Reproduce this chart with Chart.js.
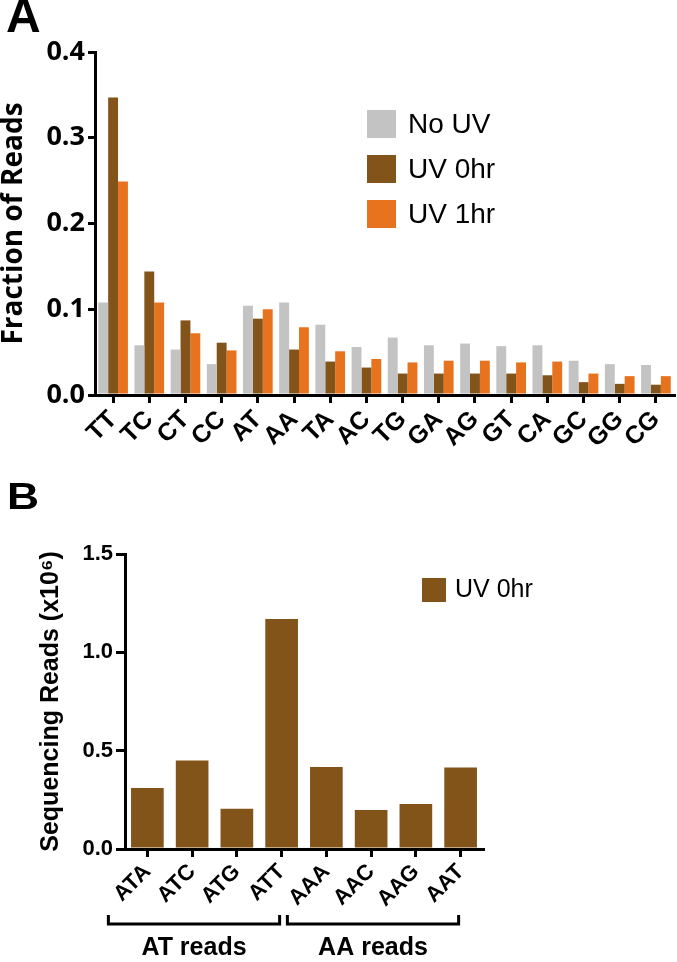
<!DOCTYPE html>
<html>
<head>
<meta charset="utf-8">
<script src="https://cdn.jsdelivr.net/npm/chart.js@4.4.0/dist/chart.umd.min.js"></script>
<style>
  html, body { margin: 0; padding: 0; background: #fff; }
  #wrap { position: relative; width: 677px; height: 962px; overflow: hidden; }
  .panel { position: absolute; left: 0; width: 677px; }
  .letter { position: absolute; font-family: 'Liberation Sans', Arial, sans-serif; font-weight: bold; line-height: 1; transform-origin: left top; }
</style>
</head>
<body>
<div id="wrap">
  <div class="panel" style="top:0;height:460px"><canvas id="chartA"></canvas></div>
  <div class="panel" style="top:460px;height:502px"><canvas id="chartB"></canvas></div>
  <div class="letter" style="left:6px;top:-8px;font-size:48px">A</div>
  <div class="letter" style="left:7px;top:478px;font-size:37px;transform:scaleX(1.2)">B</div>
</div>
<script>
// panel A data
var dinucleotides = ['TT', 'TC', 'CT', 'CC', 'AT', 'AA', 'TA', 'AC', 'TG', 'GA', 'AG', 'GT', 'CA', 'GC', 'GG', 'CG'];
var noUV  = [0.108, 0.058, 0.053, 0.036, 0.104, 0.108, 0.082, 0.056, 0.067, 0.058, 0.060, 0.057, 0.058, 0.040, 0.036, 0.035];
var uv0hr = [0.347, 0.144, 0.087, 0.061, 0.089, 0.053, 0.039, 0.032, 0.025, 0.025, 0.025, 0.025, 0.023, 0.015, 0.013, 0.012];
var uv1hr = [0.249, 0.108, 0.072, 0.052, 0.100, 0.079, 0.051, 0.042, 0.038, 0.040, 0.040, 0.038, 0.039, 0.025, 0.022, 0.022];
var yTicksA = [0.0, 0.1, 0.2, 0.3, 0.4];

// panel B data
var trinucleotides = ['ATA', 'ATC', 'ATG', 'ATT', 'AAA', 'AAC', 'AAG', 'AAT'];
var uv0hrReads = [0.31, 0.45, 0.205, 1.17, 0.417, 0.198, 0.229, 0.415];
var yTicksB = [0.0, 0.5, 1.0, 1.5];
var groupLabels = ['AT reads', 'AA reads'];
var groupStart = [0, 4];
var groupEnd = [3, 7];

var GRAY = '#C3C3C3', BROWN = '#83541A', ORANGE = '#E8731F';
var fontA = "'Open Sans', 'Liberation Sans', sans-serif";
var fontB = "'Liberation Sans', Arial, sans-serif";

var legendA = {
    id: 'legendA',
    afterDraw: function (chart) {
        var ctx = chart.ctx;
        ctx.save();
        chart.data.datasets.forEach(function (ds, i) {
            var y = 110 + i * 45;
            ctx.fillStyle = ds.backgroundColor;
            ctx.fillRect(367, y, 29, 28);
            ctx.fillStyle = '#000';
            ctx.font = "28px 'Liberation Sans', Arial, sans-serif";
            ctx.textBaseline = 'middle';
            ctx.textAlign = 'left';
            ctx.fillText(ds.label, 408, y + 15);
        });
        ctx.restore();
    }
};

var ctxA = document.getElementById('chartA').getContext('2d');
var chartA = new Chart(ctxA, {
    type: 'bar',
    data: {
        labels: dinucleotides,
        datasets: [
            { label: 'No UV', data: noUV, backgroundColor: GRAY },
            { label: 'UV 0hr', data: uv0hr, backgroundColor: BROWN },
            { label: 'UV 1hr', data: uv1hr, backgroundColor: ORANGE }
        ]
    },
    options: {
        responsive: true,
        maintainAspectRatio: false,
        animation: false,
        layout: { padding: { top: 52, right: 3, left: 0, bottom: 0 } },
        datasets: { bar: { categoryPercentage: 0.82, barPercentage: 1 } },
        plugins: { legend: { display: false }, tooltip: { enabled: false } },
        scales: {
            x: {
                offset: true,
                grid: { offset: false, drawOnChartArea: false, drawTicks: true, tickLength: 8, color: '#000', lineWidth: 3 },
                border: { display: true, color: '#000', width: 3 },
                ticks: {
                    color: '#000', minRotation: 45, maxRotation: 45, padding: 2, autoSkip: false,
                    font: { family: "'Liberation Sans', Arial, sans-serif", weight: 'bold', size: 25 }
                },
                afterFit: function (s) { s.height = 65; s.paddingLeft = 0; s.paddingRight = 0; }
            },
            y: {
                min: 0, max: 0.4,
                grid: { drawOnChartArea: false, drawTicks: true, tickLength: 7, color: '#000', lineWidth: 3 },
                border: { display: true, color: '#000', width: 3 },
                afterBuildTicks: function (s) { s.ticks = yTicksA.map(function (v) { return { value: v }; }); },
                ticks: {
                    color: '#000', padding: 3,
                    font: { family: fontA, weight: 'bold', size: 27 },
                    callback: function (v) { return v.toFixed(1); }
                },
                title: {
                    display: true, text: 'Fraction of Reads', color: '#000',
                    font: { family: fontA, weight: 'bold', size: 28, lineHeight: 1 },
                    padding: { top: 0, bottom: 0 }
                },
                afterFit: function (s) { s.width = 95; s.paddingTop = 0; s.paddingBottom = 0; }
            }
        }
    },
    plugins: [legendA]
});

var extrasB = {
    id: 'extrasB',
    afterDraw: function (chart) {
        var ctx = chart.ctx;
        var xs = chart.scales.x;
        ctx.save();
        // legend
        ctx.fillStyle = BROWN;
        ctx.fillRect(422, 118, 24, 24);
        ctx.fillStyle = '#000';
        ctx.font = "25px " + fontB;
        ctx.textBaseline = 'middle';
        ctx.textAlign = 'left';
        ctx.fillText(chart.data.datasets[0].label, 455, 130);
        // group brackets
        ctx.strokeStyle = '#000';
        ctx.lineWidth = 3;
        groupLabels.forEach(function (g, i) {
            var x0 = xs.getPixelForValue(groupStart[i]) - 39;
            var x1 = xs.getPixelForValue(groupEnd[i]) - 2;
            var y = 464;
            ctx.beginPath();
            ctx.moveTo(x0, y - 9);
            ctx.lineTo(x0, y);
            ctx.lineTo(x1, y);
            ctx.lineTo(x1, y - 9);
            ctx.stroke();
            ctx.font = "bold 25px " + fontB;
            ctx.textAlign = 'center';
            ctx.textBaseline = 'top';
            ctx.fillText(g, (x0 + x1) / 2, 476);
        });
        ctx.restore();
    }
};

var ctxB = document.getElementById('chartB').getContext('2d');
var chartB = new Chart(ctxB, {
    type: 'bar',
    data: {
        labels: trinucleotides,
        datasets: [{ label: 'UV 0hr', data: uv0hrReads, backgroundColor: BROWN }]
    },
    options: {
        responsive: true,
        maintainAspectRatio: false,
        animation: false,
        layout: { padding: { top: 94, right: 194, left: 0, bottom: 0 } },
        datasets: { bar: { categoryPercentage: 0.73, barPercentage: 1 } },
        plugins: { legend: { display: false }, tooltip: { enabled: false } },
        scales: {
            x: {
                offset: true,
                grid: { offset: false, drawOnChartArea: false, drawTicks: true, tickLength: 8, color: '#000', lineWidth: 3 },
                border: { display: true, color: '#000', width: 3 },
                ticks: {
                    color: '#000', minRotation: 45, maxRotation: 45, padding: 2, autoSkip: false,
                    font: { family: fontB, weight: 'bold', size: 22 }
                },
                afterFit: function (s) { s.height = 113; s.paddingLeft = 0; s.paddingRight = 0; }
            },
            y: {
                min: 0, max: 1.5,
                grid: { drawOnChartArea: false, drawTicks: true, tickLength: 9, color: '#000', lineWidth: 3 },
                border: { display: true, color: '#000', width: 3 },
                afterBuildTicks: function (s) { s.ticks = yTicksB.map(function (v) { return { value: v }; }); },
                ticks: {
                    color: '#000', padding: 3,
                    font: { family: fontB, weight: 'bold', size: 22 },
                    callback: function (v) { return v.toFixed(1); }
                },
                title: {
                    display: true, text: 'Sequencing Reads (x10\u2076)', color: '#000',
                    font: { family: fontB, weight: 'bold', size: 25, lineHeight: 1 },
                    padding: { top: 39, bottom: 0 }
                },
                afterFit: function (s) { s.width = 125; s.paddingTop = 0; s.paddingBottom = 0; }
            }
        }
    },
    plugins: [extrasB]
});
</script>
</body>
</html>
